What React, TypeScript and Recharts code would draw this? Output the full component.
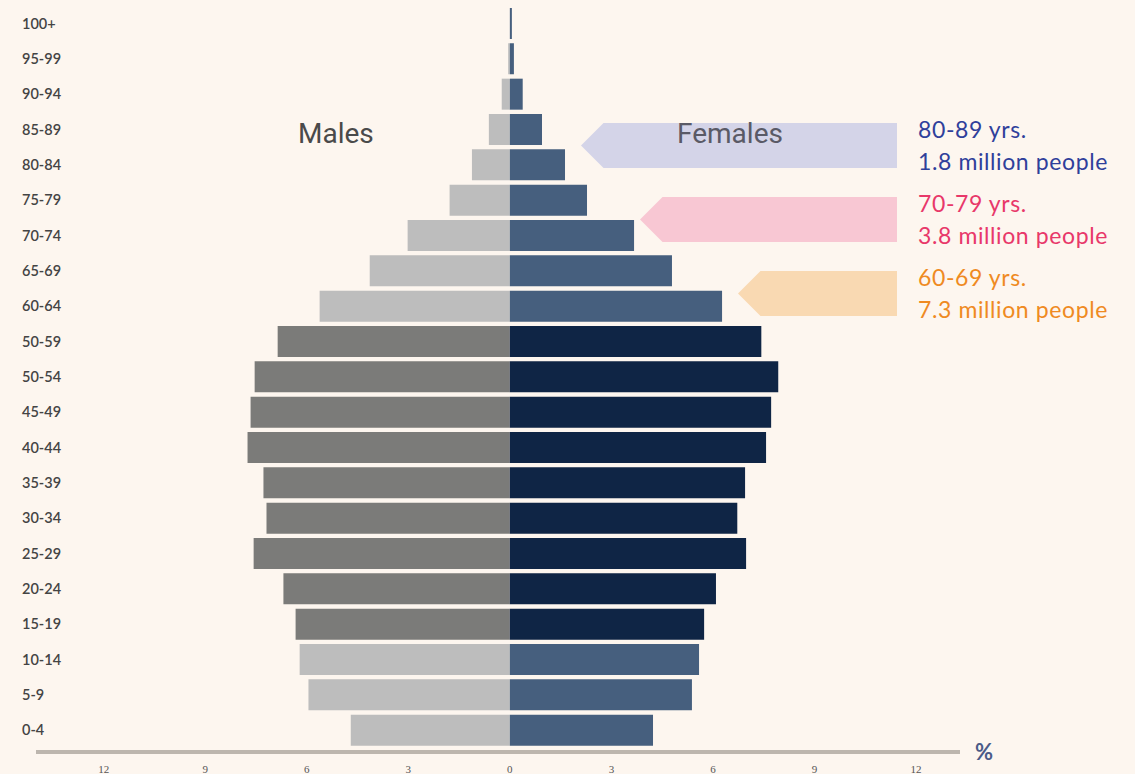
import { BarChart, Bar, XAxis, YAxis, Cell } from "recharts";

const ageGroups = [
  "100+", "95-99", "90-94", "85-89", "80-84", "75-79", "70-74", "65-69", "60-64", "50-59", "50-54",
  "45-49", "40-44", "35-39", "30-34", "25-29", "20-24", "15-19", "10-14", "5-9", "0-4",
];
const males = [0, 0.05, 0.24, 0.62, 1.12, 1.78, 3.02, 4.14, 5.62, 6.86, 7.54, 7.66, 7.75, 7.28, 7.19, 7.57, 6.69, 6.33, 6.21, 5.95, 4.7];
const females = [0.06, 0.12, 0.38, 0.95, 1.63, 2.28, 3.67, 4.79, 6.27, 7.43, 7.93, 7.72, 7.57, 6.95, 6.72, 6.98, 6.09, 5.74, 5.59, 5.38, 4.23];
// 15-59 drawn in the darker shade
const highlighted = ageGroups.map((_, i) => i >= 9 && i <= 17);
const xTicks = [-12, -9, -6, -3, 0, 3, 6, 9, 12];

const callouts = [
  { age: "80-89 yrs.", people: "1.8 million people", color: "#2f3f9b", fill: "#d4d4e8" },
  { age: "70-79 yrs.", people: "3.8 million people", color: "#e8386a", fill: "#f8c7d3" },
  { age: "60-69 yrs.", people: "7.3 million people", color: "#ef8a22", fill: "#f9d9b2" },
];

const data = ageGroups.map((age, i) => ({ age, male: -males[i], female: females[i] }));

const BG = "#fdf6ef";

function AgeTick(props: any) {
  const { y, payload } = props;
  return (
    <text x={22} y={y} dy={5} textAnchor="start" fontSize={14.5} fill="#444" fontFamily="Lato" fontWeight={600}>
      {payload.value}
    </text>
  );
}

function PctTick(props: any) {
  const { x, y, payload } = props;
  return (
    <text x={x} y={y} dy={13} textAnchor="middle" fontSize={11} fill="#555" fontFamily="Liberation Serif">
      {Math.abs(payload.value)}
    </text>
  );
}

// arrow geometry for the three callouts (tip x, top y, bottom y)
const arrowGeom = [
  { tip: 581, top: 123, bottom: 168 },
  { tip: 640, top: 197, bottom: 242 },
  { tip: 738, top: 271, bottom: 316 },
];

export default function App() {
  return (
    <div style={{ position: "absolute", left: 0, top: 0, width: 1135, height: 774, background: BG, overflow: "hidden" }}>
      <BarChart
        width={1135}
        height={774}
        data={data}
        layout="vertical"
        stackOffset="sign"
        barCategoryGap={2}
        margin={{ top: 6, right: 175, bottom: 0, left: 6 }}
      >
        <XAxis
          type="number"
          domain={[-14, 13.3]}
          ticks={xTicks}
          tick={<PctTick />}
          tickLine={false}
          axisLine={{ stroke: "#bdb6ae", strokeWidth: 4 }}
          height={22}
        />
        <YAxis
          type="category"
          dataKey="age"
          width={30}
          tick={<AgeTick />}
          tickLine={false}
          axisLine={false}
          interval={0}
          padding={{ top: 0, bottom: 4 }}
        />
        <Bar dataKey="male" stackId="p" isAnimationActive={false}>
          {data.map((d, i) => (
            <Cell key={d.age} fill={highlighted[i] ? "#7b7b79" : "#bdbdbd"} />
          ))}
        </Bar>
        <Bar dataKey="female" stackId="p" isAnimationActive={false}>
          {data.map((d, i) => (
            <Cell key={d.age} fill={highlighted[i] ? "#0f2545" : "#465f7e"} />
          ))}
        </Bar>
      </BarChart>
      <svg width={1135} height={774} style={{ position: "absolute", left: 0, top: 0, pointerEvents: "none" }}>
        {callouts.map((c, i) => {
          const g = arrowGeom[i];
          const mid = (g.top + g.bottom) / 2;
          const notch = g.tip + (g.bottom - g.top) / 2;
          return (
            <g key={c.age}>
              <polygon
                points={`${g.tip},${mid} ${notch},${g.top} 897,${g.top} 897,${g.bottom} ${notch},${g.bottom}`}
                fill={c.fill}
              />
              <text x={918} y={g.top + 15} fontSize={23} letterSpacing={0.6} fill={c.color} fontFamily="Lato">
                {c.age}
              </text>
              <text x={918} y={g.top + 47} fontSize={23} letterSpacing={0.6} fill={c.color} fontFamily="Lato">
                {c.people}
              </text>
            </g>
          );
        })}
        <text x={298} y={143} fontSize={28} fill="#4a4a4a" fontFamily="Roboto">
          Males
        </text>
        <text x={677} y={143} fontSize={28} fill="#5a5a66" fontFamily="Roboto">
          Females
        </text>
        <text x={975} y={760} fontSize={22} fill="#4b5b88" fontFamily="Lato" fontWeight="bold">
          %
        </text>
      </svg>
    </div>
  );
}
